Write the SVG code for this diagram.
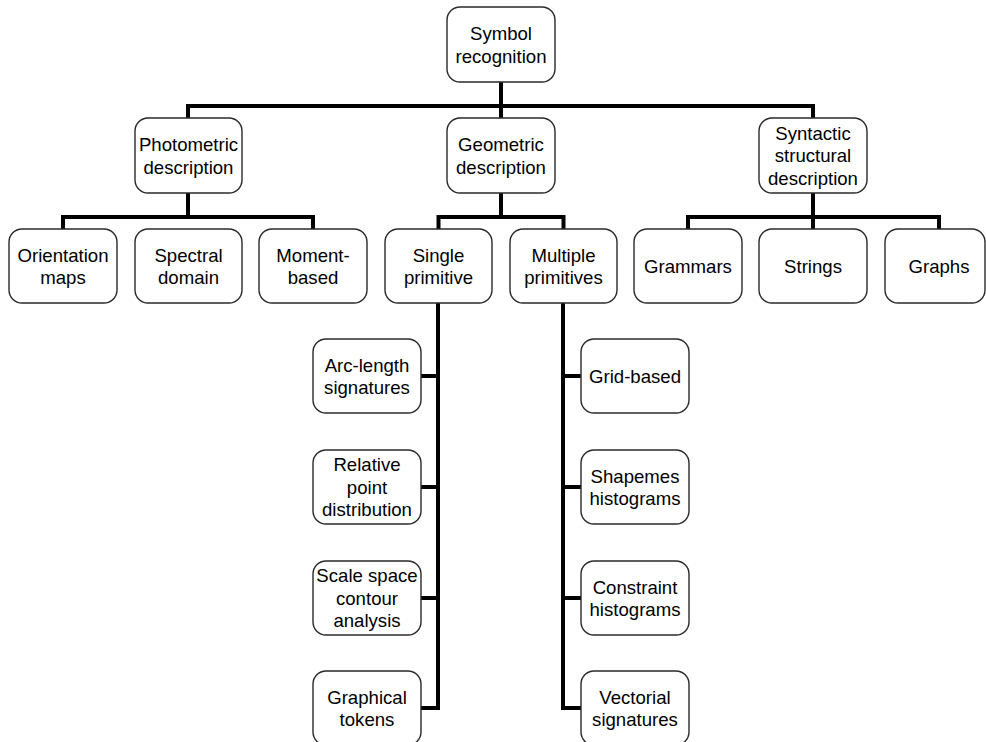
<svg xmlns="http://www.w3.org/2000/svg" width="986" height="742" viewBox="0 0 986 742">
<style>
.box{fill:#fff;stroke:#2a2a2a;stroke-width:1.4}
.lbl{font-family:"Liberation Sans",Arial,sans-serif;font-size:18.6px;fill:#000;text-anchor:middle}
.con{fill:none;stroke:#000;stroke-width:4;stroke-linejoin:miter;stroke-linecap:butt}
</style>
<rect width="986" height="742" fill="#fff"/>
<g id="connectors">
<path class="con" d="M501 82 V118"/>
<path class="con" d="M188 118 V106 H813 V118"/>
<path class="con" d="M188 193 V217"/>
<path class="con" d="M63 229 V217 H313 V229"/>
<path class="con" d="M501 193 V217"/>
<path class="con" d="M438.5 229 V217 H563.5 V229"/>
<path class="con" d="M813 193 V229"/>
<path class="con" d="M688 229 V217 H939 V229"/>
<path class="con" d="M438 303 V708 H421"/>
<path class="con" d="M421 376 H438 M421 487 H438 M421 598 H438"/>
<path class="con" d="M563 303 V708 H581"/>
<path class="con" d="M563 376 H581 M563 487 H581 M563 598 H581"/>
</g>
<g id="root"><rect class="box" x="447" y="7" width="108" height="75" rx="13"/><text class="lbl"><tspan x="501" y="40">Symbol</tspan><tspan x="501" y="62.5">recognition</tspan></text></g>
<g id="photometric"><rect class="box" x="135" y="118" width="107" height="75" rx="13"/><text class="lbl"><tspan x="188.5" y="151">Photometric</tspan><tspan x="188.5" y="173.5">description</tspan></text></g>
<g id="geometric"><rect class="box" x="447" y="118" width="108" height="75" rx="13"/><text class="lbl"><tspan x="501" y="151">Geometric</tspan><tspan x="501" y="173.5">description</tspan></text></g>
<g id="syntactic"><rect class="box" x="759" y="118" width="108" height="75" rx="13"/><text class="lbl"><tspan x="813" y="139.7">Syntactic</tspan><tspan x="813" y="162.2">structural</tspan><tspan x="813" y="184.7">description</tspan></text></g>
<g id="orientation"><rect class="box" x="9" y="229" width="108" height="74" rx="13"/><text class="lbl"><tspan x="63" y="261.5">Orientation</tspan><tspan x="63" y="284">maps</tspan></text></g>
<g id="spectral"><rect class="box" x="135" y="229" width="107" height="74" rx="13"/><text class="lbl"><tspan x="188.5" y="261.5">Spectral</tspan><tspan x="188.5" y="284">domain</tspan></text></g>
<g id="moment"><rect class="box" x="259" y="229" width="108" height="74" rx="13"/><text class="lbl"><tspan x="313" y="261.5">Moment-</tspan><tspan x="313" y="284">based</tspan></text></g>
<g id="single"><rect class="box" x="385" y="229" width="107" height="74" rx="13"/><text class="lbl"><tspan x="438.5" y="261.5">Single</tspan><tspan x="438.5" y="284">primitive</tspan></text></g>
<g id="multiple"><rect class="box" x="510" y="229" width="107" height="74" rx="13"/><text class="lbl"><tspan x="563.5" y="261.5">Multiple</tspan><tspan x="563.5" y="284">primitives</tspan></text></g>
<g id="grammars"><rect class="box" x="634" y="229" width="108" height="74" rx="13"/><text class="lbl" x="688" y="272.7">Grammars</text></g>
<g id="strings"><rect class="box" x="759" y="229" width="108" height="74" rx="13"/><text class="lbl" x="813" y="272.7">Strings</text></g>
<g id="graphs"><rect class="box" x="885" y="229" width="100" height="74" rx="13"/><text class="lbl" x="939" y="272.7">Graphs</text></g>
<g id="arclength"><rect class="box" x="313" y="339" width="108" height="74" rx="13"/><text class="lbl"><tspan x="367" y="371.5">Arc-length</tspan><tspan x="367" y="394">signatures</tspan></text></g>
<g id="relative"><rect class="box" x="313" y="450" width="108" height="74" rx="13"/><text class="lbl"><tspan x="367" y="471.2">Relative</tspan><tspan x="367" y="493.7">point</tspan><tspan x="367" y="516.2">distribution</tspan></text></g>
<g id="scalespace"><rect class="box" x="313" y="561" width="108" height="74" rx="13"/><text class="lbl"><tspan x="367" y="582.2">Scale space</tspan><tspan x="367" y="604.7">contour</tspan><tspan x="367" y="627.2">analysis</tspan></text></g>
<g id="graphical"><rect class="box" x="313" y="671" width="108" height="74" rx="13"/><text class="lbl"><tspan x="367" y="703.5">Graphical</tspan><tspan x="367" y="726">tokens</tspan></text></g>
<g id="grid"><rect class="box" x="581" y="339" width="108" height="74" rx="13"/><text class="lbl" x="635" y="382.7">Grid-based</text></g>
<g id="shapemes"><rect class="box" x="581" y="450" width="108" height="74" rx="13"/><text class="lbl"><tspan x="635" y="482.5">Shapemes</tspan><tspan x="635" y="505">histograms</tspan></text></g>
<g id="constraint"><rect class="box" x="581" y="561" width="108" height="74" rx="13"/><text class="lbl"><tspan x="635" y="593.5">Constraint</tspan><tspan x="635" y="616">histograms</tspan></text></g>
<g id="vectorial"><rect class="box" x="581" y="671" width="108" height="74" rx="13"/><text class="lbl"><tspan x="635" y="703.5">Vectorial</tspan><tspan x="635" y="726">signatures</tspan></text></g>
</svg>
